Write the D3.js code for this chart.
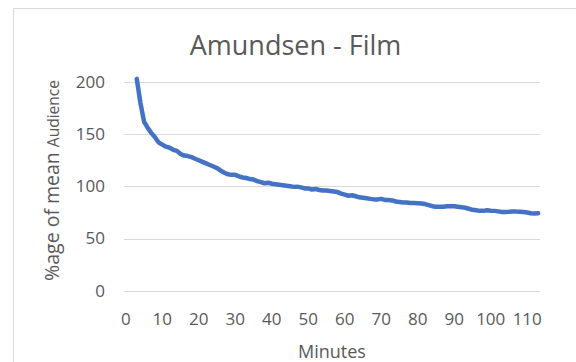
<!DOCTYPE html>
<html>
<head>
<meta charset="utf-8">
<script src="https://cdn.jsdelivr.net/npm/d3@7"></script>
<style>
  html, body { margin: 0; padding: 0; background: #fff; }
  svg { display: block; font-family: "Open Sans", sans-serif; }
</style>
</head>
<body>
<svg id="chart" width="576" height="362"></svg>
<script>
// Audience retention, % of mean audience, per minute of the film
const minutes = d3.range(3, 114);
const audience = [
  203, 180, 162, 156, 151, 147, 142, 140, 138, 137,     // 3-12
  135, 134, 131, 129.5, 129, 128, 126.5, 125, 123.5, 122, // 13-22
  120.5, 119, 117.5, 115, 113, 111.5, 111, 111, 109.5, 108.5, // 23-32
  108, 107, 106.5, 105, 104, 103, 103.5, 102.5, 102, 101.5,   // 33-42
  101, 100.5, 100, 99.5, 99.7, 99, 98, 98, 97, 97.5,          // 43-52
  96.5, 96, 96, 95.5, 95, 94.5, 93, 92, 91, 91.5,             // 53-62
  90.5, 89.5, 89, 88.5, 88, 87.5, 87.5, 88, 87, 87,           // 63-72
  86.5, 85.5, 85, 84.5, 84.5, 84, 84, 83.8, 83.5, 83,         // 73-82
  82, 81, 80.5, 80.5, 80.5, 81, 81, 81, 80.5, 80,             // 83-92
  79.5, 78.5, 77.5, 77, 76.5, 76.5, 77, 76.7, 76.5, 76,       // 93-102
  75.5, 75.5, 75.7, 76, 75.8, 75.7, 75.5, 75, 74.2, 74,       // 103-112
  74.3                                                         // 113
];
const xTicks = d3.range(0, 111, 10);
const yTicks = [0, 50, 100, 150, 200];
const titleText = "Amundsen - Film";
const xTitle = "Minutes";

const svg = d3.select("#chart");

// chart area frame
svg.append("rect")
  .attr("x", 13.5).attr("y", 8.5)
  .attr("width", 700).attr("height", 500)
  .attr("fill", "none").attr("stroke", "#d9d9d9").attr("stroke-width", 1);

// category axis: 114 slots (0..113), points sit mid-slot
const x = d3.scaleLinear().domain([-0.5, 113.5]).range([124, 540]);
const y = d3.scaleLinear().domain([0, 200]).range([290.7, 82]);

// horizontal gridlines
svg.append("g").selectAll("line").data(yTicks).join("line")
  .attr("x1", 124).attr("x2", 540)
  .attr("y1", d => Math.round(y(d)) + 0.5).attr("y2", d => Math.round(y(d)) + 0.5)
  .attr("stroke", "#d9d9d9").attr("stroke-width", 1);

// y tick labels
svg.append("g").selectAll("text").data(yTicks).join("text")
  .attr("x", 105).attr("y", d => y(d))
  .attr("dy", "0.35em")
  .attr("text-anchor", "end")
  .attr("font-size", 17).attr("fill", "#595959")
  .text(d => d);

// x tick labels
svg.append("g").selectAll("text").data(xTicks).join("text")
  .attr("x", d => x(d)).attr("y", 325)
  .attr("text-anchor", "middle")
  .attr("font-size", 17).attr("fill", "#595959")
  .text(d => d);

// title
svg.append("text")
  .attr("x", 295.5).attr("y", 55)
  .attr("text-anchor", "middle")
  .attr("font-size", 27).attr("fill", "#595959")
  .text(titleText);

// x axis title
svg.append("text")
  .attr("x", 332).attr("y", 358)
  .attr("text-anchor", "middle")
  .attr("font-size", 18).attr("fill", "#595959")
  .text(xTitle);

// y axis title (mixed sizes)
const yt = svg.append("text")
  .attr("transform", "translate(59,180.5) rotate(-90)")
  .attr("text-anchor", "middle")
  .attr("fill", "#595959");
yt.append("tspan").attr("font-size", 19.5).text("%age of mean ");
yt.append("tspan").attr("font-size", 15.5).text("Audience");

// retention line
const line = d3.line()
  .x((d, i) => x(minutes[i]))
  .y(d => y(d));

svg.append("path")
  .datum(audience)
  .attr("d", line)
  .attr("fill", "none")
  .attr("stroke", "#4472C4")
  .attr("stroke-width", 4.5)
  .attr("stroke-linejoin", "round")
  .attr("stroke-linecap", "round");
</script>
</body>
</html>
